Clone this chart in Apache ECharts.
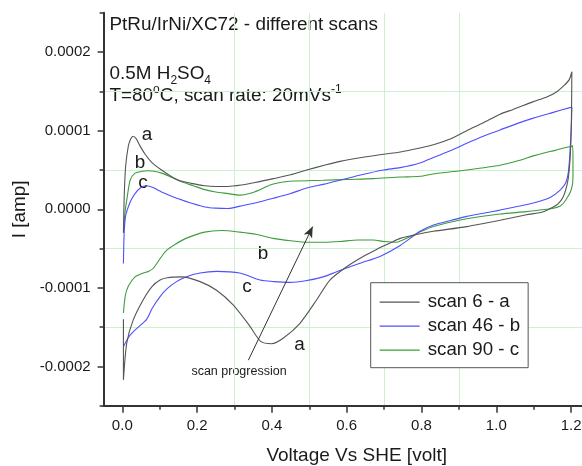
<!DOCTYPE html>
<html><head><meta charset="utf-8">
<script src="https://cdn.jsdelivr.net/npm/echarts@6/dist/echarts.min.js"></script>
<style>html,body{margin:0;padding:0;background:#fff}#c{width:582px;height:466px}</style>
</head><body><div id="c"></div>
<script>
// ---------- data (voltage in V, current in A) ----------
const seriesNames = ['scan 6 - a', 'scan 46 - b', 'scan 90 - c'];
const xTicks = [0, 0.2, 0.4, 0.6, 0.8, 1.0, 1.2];
const yTicks = [-0.0002, -0.0001, 0, 0.0001, 0.0002];

// scan 6 (a) – anodic sweep
const scan6UpV = [0.003,0.005,0.009,0.016,0.022,0.029,0.037,0.047,0.061,0.080,0.105,0.130,0.150,0.185,0.220,0.250,0.283,0.320,0.355,0.404,0.450,0.493,0.540,0.582,0.640,0.698,0.744,0.796,0.832,0.880,0.921,0.965,1.010,1.045,1.099,1.135,1.160,1.180,1.195,1.202];
const scan6UpI = [-0.30e-4,0.15e-4,0.55e-4,0.80e-4,0.89e-4,0.93e-4,0.90e-4,0.81e-4,0.70e-4,0.59e-4,0.50e-4,0.42e-4,0.37e-4,0.33e-4,0.30e-4,0.29e-4,0.29e-4,0.31e-4,0.34e-4,0.39e-4,0.44e-4,0.50e-4,0.56e-4,0.61e-4,0.66e-4,0.70e-4,0.73e-4,0.78e-4,0.82e-4,0.90e-4,1.00e-4,1.10e-4,1.21e-4,1.27e-4,1.37e-4,1.43e-4,1.49e-4,1.57e-4,1.65e-4,1.75e-4];
// scan 6 (a) – cathodic sweep
const scan6DownV = [1.201,1.199,1.195,1.190,1.179,1.165,1.152,1.126,1.081,1.010,0.921,0.832,0.796,0.743,0.716,0.680,0.644,0.600,0.555,0.520,0.475,0.430,0.399,0.370,0.340,0.297,0.252,0.208,0.159,0.120,0.101,0.080,0.056,0.029,0.012,0.003,0.003];
const scan6DownI = [1.20e-4,0.80e-4,0.50e-4,0.33e-4,0.16e-4,0.07e-4,0.03e-4,-0.03e-4,-0.07e-4,-0.14e-4,-0.22e-4,-0.28e-4,-0.31e-4,-0.37e-4,-0.43e-4,-0.51e-4,-0.60e-4,-0.73e-4,-0.90e-4,-1.15e-4,-1.45e-4,-1.64e-4,-1.71e-4,-1.68e-4,-1.48e-4,-1.22e-4,-1.03e-4,-0.92e-4,-0.86e-4,-0.87e-4,-0.90e-4,-0.98e-4,-1.15e-4,-1.41e-4,-1.70e-4,-2.17e-4,-1.40e-4];

// scan 46 (b)
const scan46UpV = [0.003,0.005,0.009,0.016,0.025,0.034,0.048,0.065,0.085,0.105,0.130,0.159,0.190,0.221,0.250,0.283,0.315,0.355,0.404,0.450,0.493,0.540,0.582,0.640,0.698,0.743,0.796,0.832,0.880,0.921,0.965,1.010,1.055,1.099,1.150,1.202];
const scan46UpI = [-0.69e-4,-0.30e-4,-0.08e-4,0.03e-4,0.13e-4,0.20e-4,0.27e-4,0.30e-4,0.27e-4,0.22e-4,0.17e-4,0.12e-4,0.07e-4,0.03e-4,0.015e-4,0.01e-4,0.04e-4,0.08e-4,0.14e-4,0.20e-4,0.27e-4,0.32e-4,0.37e-4,0.44e-4,0.50e-4,0.53e-4,0.59e-4,0.66e-4,0.75e-4,0.84e-4,0.93e-4,1.01e-4,1.09e-4,1.16e-4,1.23e-4,1.30e-4];
const scan46DownV = [1.201,1.199,1.196,1.192,1.185,1.170,1.144,1.099,1.050,1.010,0.965,0.921,0.880,0.832,0.796,0.743,0.689,0.640,0.609,0.570,0.537,0.490,0.448,0.405,0.368,0.314,0.252,0.208,0.170,0.145,0.120,0.101,0.080,0.065,0.045,0.029,0.015,0.003];
const scan46DownI = [1.10e-4,0.90e-4,0.65e-4,0.45e-4,0.33e-4,0.24e-4,0.15e-4,0.08e-4,0.03e-4,-0.01e-4,-0.05e-4,-0.09e-4,-0.14e-4,-0.20e-4,-0.28e-4,-0.46e-4,-0.60e-4,-0.68e-4,-0.73e-4,-0.80e-4,-0.86e-4,-0.91e-4,-0.93e-4,-0.92e-4,-0.90e-4,-0.81e-4,-0.79e-4,-0.81e-4,-0.86e-4,-0.92e-4,-1.01e-4,-1.11e-4,-1.26e-4,-1.40e-4,-1.49e-4,-1.56e-4,-1.64e-4,-1.75e-4];

// scan 90 (c)
const scan90UpV = [0.004,0.007,0.012,0.021,0.034,0.050,0.070,0.105,0.130,0.159,0.190,0.221,0.250,0.283,0.315,0.340,0.368,0.395,0.422,0.457,0.537,0.600,0.671,0.743,0.796,0.832,0.921,1.010,1.060,1.099,1.130,1.157,1.180,1.200,1.204];
const scan90UpI = [-0.25e-4,-0.05e-4,0.12e-4,0.37e-4,0.46e-4,0.48e-4,0.49e-4,0.46e-4,0.41e-4,0.35e-4,0.30e-4,0.25e-4,0.22e-4,0.20e-4,0.18e-4,0.20e-4,0.25e-4,0.31e-4,0.34e-4,0.36e-4,0.37e-4,0.38e-4,0.39e-4,0.41e-4,0.42e-4,0.45e-4,0.50e-4,0.56e-4,0.62e-4,0.68e-4,0.72e-4,0.75e-4,0.78e-4,0.80e-4,0.81e-4];
const scan90DownV = [1.205,1.205,1.203,1.198,1.190,1.180,1.170,1.150,1.135,1.080,1.010,0.921,0.870,0.832,0.800,0.778,0.750,0.734,0.700,0.671,0.630,0.582,0.540,0.493,0.450,0.404,0.360,0.314,0.266,0.220,0.170,0.140,0.119,0.105,0.083,0.070,0.056,0.034,0.016,0.008,0.003];
const scan90DownI = [0.60e-4,0.40e-4,0.30e-4,0.22e-4,0.15e-4,0.08e-4,0.04e-4,0.01e-4,0.00e-4,-0.03e-4,-0.06e-4,-0.12e-4,-0.17e-4,-0.22e-4,-0.28e-4,-0.33e-4,-0.39e-4,-0.42e-4,-0.41e-4,-0.39e-4,-0.39e-4,-0.41e-4,-0.42e-4,-0.42e-4,-0.40e-4,-0.37e-4,-0.32e-4,-0.29e-4,-0.27e-4,-0.29e-4,-0.37e-4,-0.45e-4,-0.52e-4,-0.60e-4,-0.75e-4,-0.79e-4,-0.81e-4,-0.86e-4,-0.98e-4,-1.10e-4,-1.32e-4];

// "scan progression" arrow (data coordinates: start, tip)
const arrowFrom = [0.337, -1.92e-4];
const arrowTo = [0.509, -0.22e-4];

// ---------- build ----------
const FONT = '"Liberation Sans", Arial, Helvetica, sans-serif';
const colors = ['#555555', '#4f4fff', '#3b9e3b'];
const pairs = (v, i) => v.map((x, k) => [x, i[k]]);
const loops = [
  pairs(scan6UpV, scan6UpI).concat(pairs(scan6DownV, scan6DownI)),
  pairs(scan46UpV, scan46UpI).concat(pairs(scan46DownV, scan46DownI)),
  pairs(scan90UpV, scan90UpI).concat(pairs(scan90DownV, scan90DownI))
];

const ctx = document.createElement('canvas').getContext('2d');
function tw(t, fs) { ctx.font = fs + 'px ' + FONT; return ctx.measureText(t).width; }
function textLine(x, baseline, parts) {
  const out = []; let cx = x;
  parts.forEach(([t, fs, dy]) => {
    out.push({ type: 'text', x: cx, y: baseline + dy - fs * 0.35, silent: true,
      style: { text: t, fontSize: fs, fontFamily: FONT, fill: '#1a1a1a', align: 'left', verticalAlign: 'middle' } });
    cx += tw(t, fs);
  });
  return out;
}
function label(t, x, y, fs) {
  return { type: 'text', x: x, y: y, silent: true,
    style: { text: t, fontSize: fs, fontFamily: FONT, fill: '#1a1a1a', align: 'center', verticalAlign: 'middle' } };
}

const texts = [].concat(
  textLine(109.5, 31.5, [['PtRu/IrNi/XC72 - different scans', 18.9, 0]]),
  textLine(109.5, 80, [['0.5M H', 18.9, 0], ['2', 12, 5], ['SO', 18.9, 0], ['4', 12, 5]]),
  textLine(109.5, 102, [['T=80', 18.9, 0], ['o', 12, -8], ['C, scan rate: 20mVs', 18.9, 0], ['-1', 12, -8]]),
  [label('a', 147, 135, 18.9), label('b', 140, 163, 18.9), label('c', 143, 182.5, 18.9),
   label('b', 263, 253.5, 18.9), label('c', 247, 286.5, 18.9), label('a', 299.5, 345, 18.9),
   label('scan progression', 239, 371.5, 12.5)]
);

const series = loops.map((d, k) => ({
  name: seriesNames[k], type: 'line', data: d, xAxisIndex: 0, yAxisIndex: 0,
  symbol: 'none', smooth: 0.25, clip: false,
  lineStyle: { color: colors[k], width: 1.1 }, itemStyle: { color: colors[k] },
  z: 3 - k
}));
series[0].markLine = {
  silent: true, symbol: ['none', 'arrow'], symbolSize: [7, 11], animation: false,
  label: { show: false },
  lineStyle: { color: '#333', width: 1, type: 'solid' },
  data: [[{ coord: arrowFrom }, { coord: arrowTo }]]
};

const gridColor = '#cdf0cd';
const option = {
  animation: false,
  backgroundColor: '#fff',
  textStyle: { fontFamily: FONT },
  grid: { left: 103.6, top: 12.8, width: 486.2, height: 393, containLabel: false, outerBoundsMode: 'none' },
  xAxis: [
    { type: 'value', position: 'bottom', min: -0.05, max: 1.25, splitNumber: 6,
      name: 'Voltage Vs SHE [volt]', nameLocation: 'middle', nameGap: 40,
      nameTextStyle: { fontSize: 19, color: '#1a1a1a', fontFamily: FONT, padding: [0, 0, 0, 20] },
      axisLine: { onZero: false, lineStyle: { color: '#333', width: 2 } },
      axisTick: { customValues: xTicks, length: 7, lineStyle: { color: '#333', width: 1.5 } },
      axisLabel: { customValues: xTicks, formatter: v => v.toFixed(1), fontSize: 15, color: '#1a1a1a', margin: 13, fontFamily: FONT },
      splitLine: { show: false } },
    { type: 'value', position: 'bottom', min: -0.75, max: 5.75, splitNumber: 6,
      axisLine: { show: false, onZero: false },
      axisTick: { show: true, customValues: [0, 1, 2, 3, 4, 5], length: 4, lineStyle: { color: '#333', width: 1.5 } },
      axisLabel: { show: false },
      splitLine: { show: true, showMinLine: false, showMaxLine: false, lineStyle: { color: gridColor, width: 1 } } }
  ],
  yAxis: [
    { type: 'value', position: 'left', min: -0.00025, max: 0.00025,
      name: 'I [amp]', nameLocation: 'middle', nameGap: 62, nameRotate: 90,
      nameTextStyle: { fontSize: 18.9, color: '#1a1a1a', fontFamily: FONT },
      axisLine: { onZero: false, lineStyle: { color: '#333', width: 2 } },
      axisTick: { customValues: yTicks, length: 6, lineStyle: { color: '#333', width: 1.5 } },
      axisLabel: { customValues: yTicks, formatter: v => v.toFixed(4), fontSize: 15, color: '#1a1a1a', margin: 13, fontFamily: FONT },
      splitLine: { show: false } },
    { type: 'value', position: 'left', min: -3, max: 2, interval: 1,
      axisLine: { show: false, onZero: false },
      axisTick: { show: true, length: 4, lineStyle: { color: '#333', width: 1.5 } },
      axisLabel: { show: false },
      splitLine: { show: true, showMinLine: false, showMaxLine: false, lineStyle: { color: gridColor, width: 1 } } }
  ],
  legend: {
    orient: 'vertical', left: 370.7, top: 282.7, icon: 'rect',
    padding: [10, 8, 8, 9], itemGap: 5, itemWidth: 40, itemHeight: 1.3,
    borderColor: '#555', borderWidth: 1, backgroundColor: '#fff',
    textStyle: { fontSize: 18.7, color: '#1a1a1a', fontFamily: FONT, lineHeight: 19, padding: [0, 0, 0, 3] },
    data: seriesNames
  },
  graphic: texts,
  series: series
};
const chart = echarts.init(document.getElementById('c'), null, { renderer: 'canvas' });
chart.setOption(option);
</script></body></html>
